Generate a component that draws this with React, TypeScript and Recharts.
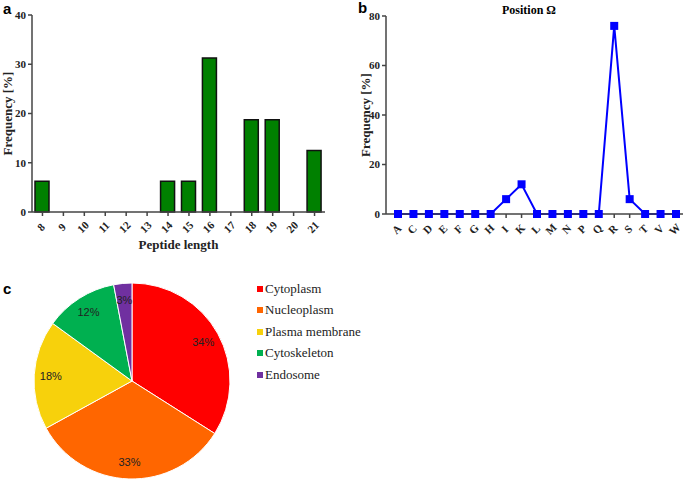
import React from "react";
import {
  BarChart,
  Bar,
  LineChart,
  Line,
  PieChart,
  Pie,
  Cell,
  XAxis,
  YAxis,
  Label,
} from "recharts";

const lengthCategories = ["8", "9", "10", "11", "12", "13", "14", "15", "16", "17", "18", "19", "20", "21"];
const lengthFrequency = [6.25, 0, 0, 0, 0, 0, 6.25, 6.25, 31.25, 0, 18.75, 18.75, 0, 12.5];

const residues = ["A", "C", "D", "E", "F", "G", "H", "I", "K", "L", "M", "N", "P", "Q", "R", "S", "T", "V", "W"];
const residueFrequency = [0, 0, 0, 0, 0, 0, 0, 6, 12, 0, 0, 0, 0, 0, 76, 6, 0, 0, 0];

const locations = ["Cytoplasm", "Nucleoplasm", "Plasma membrane", "Cytoskeleton", "Endosome"];
const locationShares = [34, 33, 18, 12, 3];
const locationColors = ["#ff0000", "#ff6600", "#f7d10c", "#00b050", "#7030a0"];

const serif = "'Liberation Serif', 'Times New Roman', serif";
const sans = "'Liberation Sans', Arial, sans-serif";
const axisColor = "#444";

const lengthData = lengthCategories.map((c, i) => ({ length: c, freq: lengthFrequency[i] }));
const residueData = residues.map((r, i) => ({ residue: r, freq: residueFrequency[i] }));
const locationData = locations.map((name, i) => ({ name, value: locationShares[i] }));

// rotated category label, centred a little below the tick
function SlantTick(props: any) {
  const { x, y, payload } = props;
  const px = x - 1.5;
  const py = y + 9;
  return (
    <text
      x={px}
      y={py}
      transform={`rotate(-45 ${px} ${py})`}
      textAnchor="middle"
      dominantBaseline="central"
      fontFamily={serif}
      fontWeight="bold"
      fontSize={11}
      fill="#222"
    >
      {payload.value}
    </text>
  );
}

function SquareDot(props: any) {
  const { cx, cy } = props;
  if (cx == null || cy == null) return null;
  return <rect x={cx - 4} y={cy - 4} width={8} height={8} fill="#0000ff" />;
}

const RAD = Math.PI / 180;
function renderSliceLabel(props: any) {
  const { cx, cy, midAngle, outerRadius, percent } = props;
  const r = outerRadius * 0.83;
  const x = cx + r * Math.cos(-midAngle * RAD);
  const y = cy + r * Math.sin(-midAngle * RAD);
  return (
    <text x={x} y={y} textAnchor="middle" dominantBaseline="central" fontFamily={sans} fontSize={11} fill="#222">
      {`${Math.round(percent * 100)}%`}
    </text>
  );
}

function LocationLegend() {
  return (
    <div>
      {locations.map((name, i) => (
        <div key={name} style={{ display: "flex", alignItems: "center", height: 21.5 }}>
          <span style={{ width: 6, height: 6, background: locationColors[i], marginRight: 2, display: "inline-block" }} />
          <span style={{ fontFamily: serif, fontSize: 13, color: "#222" }}>{name}</span>
        </div>
      ))}
    </div>
  );
}

const tickStyle = { fontFamily: serif, fontWeight: "bold" as const, fontSize: 11, fill: "#222" };
const letterStyle = { position: "absolute" as const, fontFamily: sans, fontWeight: "bold" as const, fontSize: 15, lineHeight: "15px" };

export default function App() {
  return (
    <div style={{ position: "absolute", left: 0, top: 0, width: 685, height: 479, background: "#fff" }}>
      <div style={{ ...letterStyle, left: 3, top: 1 }}>a</div>
      <div style={{ ...letterStyle, left: 358, top: 0 }}>b</div>
      <div style={{ ...letterStyle, left: 3, top: 281 }}>c</div>

      <div style={{ position: "absolute", left: 0, top: 0 }}>
        <BarChart width={340} height={260} data={lengthData} margin={{ top: 15, right: 15, left: 0, bottom: 0 }}>
          <XAxis
            dataKey="length"
            height={48}
            tick={SlantTick}
            tickSize={4}
            interval={0}
            stroke={axisColor}
            strokeWidth={1.5}
          >
            <Label value="Peptide length" position="insideBottom" offset={11} style={{ fontFamily: serif, fontWeight: "bold", fontSize: 13, fill: "#222" }} />
          </XAxis>
          <YAxis
            width={32}
            domain={[0, 40]}
            ticks={[0, 10, 20, 30, 40]}
            tickSize={4}
            tick={tickStyle}
            stroke={axisColor}
            strokeWidth={1.5}
          >
            <Label value="Frequency [%]" angle={-90} position="center" dx={-9} style={{ fontFamily: serif, fontWeight: "bold", fontSize: 13, fill: "#222" }} />
          </YAxis>
          <Bar dataKey="freq" barSize={14} fill="#008000" stroke="#111" strokeWidth={1.5} isAnimationActive={false} />
        </BarChart>
      </div>

      <div style={{ position: "absolute", left: 340, top: 0 }}>
        <div style={{ position: "absolute", left: 139, top: 3, width: 100, textAlign: "center", fontFamily: serif, fontWeight: "bold", fontSize: 12, lineHeight: "14px", zIndex: 1 }}>
          Position Ω
        </div>
        <LineChart width={345} height={260} data={residueData} margin={{ top: 16, right: 2, left: 0, bottom: 0 }}>
          <XAxis
            dataKey="residue"
            height={46}
            tick={SlantTick}
            tickSize={4}
            interval={0}
            padding={{ left: 12, right: 7 }}
            stroke={axisColor}
            strokeWidth={1.5}
          />
          <YAxis
            width={46}
            domain={[0, 80]}
            ticks={[0, 20, 40, 60, 80]}
            tickSize={4}
            tick={tickStyle}
            stroke={axisColor}
            strokeWidth={1.5}
          >
            <Label value="Frequency [%]" angle={-90} position="center" dx={2} style={{ fontFamily: serif, fontWeight: "bold", fontSize: 13, fill: "#222" }} />
          </YAxis>
          <Line
            type="linear"
            dataKey="freq"
            stroke="#0000ff"
            strokeWidth={2}
            dot={<SquareDot />}
            activeDot={false}
            isAnimationActive={false}
          />
        </LineChart>
      </div>

      <div style={{ position: "absolute", left: 0, top: 270 }}>
        <PieChart width={250} height={209} margin={{ top: 0, right: 0, bottom: 0, left: 0 }}>
          <Pie
            data={locationData}
            dataKey="value"
            nameKey="name"
            cx={132}
            cy={111}
            outerRadius={98}
            startAngle={90}
            endAngle={-270}
            stroke="#fff"
            strokeWidth={1}
            label={renderSliceLabel}
            labelLine={false}
            isAnimationActive={false}
          >
            {locationData.map((d, i) => (
              <Cell key={d.name} fill={locationColors[i]} />
            ))}
          </Pie>
        </PieChart>
      </div>
      <div style={{ position: "absolute", left: 257, top: 278 }}>
        <LocationLegend />
      </div>
    </div>
  );
}
